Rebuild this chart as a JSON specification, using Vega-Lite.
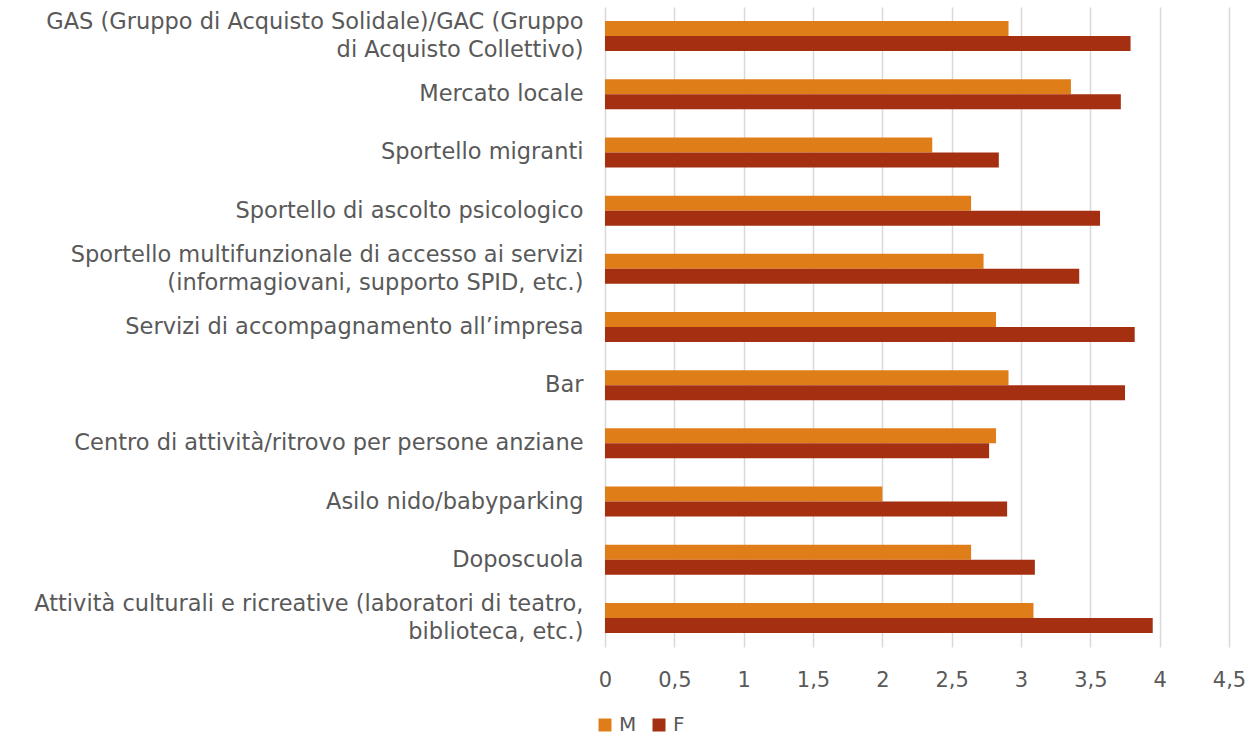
{
  "$schema": "https://vega.github.io/schema/vega-lite/v6.json",
  "autosize": {"type": "none"},
  "width": 624,
  "height": 640,
  "padding": {"left": 605, "top": 7, "right": 26, "bottom": 93},
  "background": "white",
  "config": {
    "view": {"stroke": null},
    "font": "DejaVu Sans",
    "axis": {"labelFont": "DejaVu Sans", "labelColor": "#595959"},
    "legend": {"labelFont": "DejaVu Sans", "labelColor": "#595959"}
  },
  "data": {
    "values": [
      {"Servizio": "GAS (Gruppo di Acquisto Solidale)/GAC (Gruppo\ndi Acquisto Collettivo)", "Genere": "M", "Valore": 2.91},
      {"Servizio": "GAS (Gruppo di Acquisto Solidale)/GAC (Gruppo\ndi Acquisto Collettivo)", "Genere": "F", "Valore": 3.79},
      {"Servizio": "Mercato locale", "Genere": "M", "Valore": 3.36},
      {"Servizio": "Mercato locale", "Genere": "F", "Valore": 3.72},
      {"Servizio": "Sportello migranti", "Genere": "M", "Valore": 2.36},
      {"Servizio": "Sportello migranti", "Genere": "F", "Valore": 2.84},
      {"Servizio": "Sportello di ascolto psicologico", "Genere": "M", "Valore": 2.64},
      {"Servizio": "Sportello di ascolto psicologico", "Genere": "F", "Valore": 3.57},
      {"Servizio": "Sportello multifunzionale di accesso ai servizi\n(informagiovani, supporto SPID, etc.)", "Genere": "M", "Valore": 2.73},
      {"Servizio": "Sportello multifunzionale di accesso ai servizi\n(informagiovani, supporto SPID, etc.)", "Genere": "F", "Valore": 3.42},
      {"Servizio": "Servizi di accompagnamento all’impresa", "Genere": "M", "Valore": 2.82},
      {"Servizio": "Servizi di accompagnamento all’impresa", "Genere": "F", "Valore": 3.82},
      {"Servizio": "Bar", "Genere": "M", "Valore": 2.91},
      {"Servizio": "Bar", "Genere": "F", "Valore": 3.75},
      {"Servizio": "Centro di attività/ritrovo per persone anziane", "Genere": "M", "Valore": 2.82},
      {"Servizio": "Centro di attività/ritrovo per persone anziane", "Genere": "F", "Valore": 2.77},
      {"Servizio": "Asilo nido/babyparking", "Genere": "M", "Valore": 2.0},
      {"Servizio": "Asilo nido/babyparking", "Genere": "F", "Valore": 2.9},
      {"Servizio": "Doposcuola", "Genere": "M", "Valore": 2.64},
      {"Servizio": "Doposcuola", "Genere": "F", "Valore": 3.1},
      {"Servizio": "Attività culturali e ricreative (laboratori di teatro,\nbiblioteca, etc.)", "Genere": "M", "Valore": 3.09},
      {"Servizio": "Attività culturali e ricreative (laboratori di teatro,\nbiblioteca, etc.)", "Genere": "F", "Valore": 3.95}
    ]
  },
  "mark": {"type": "bar"},
  "encoding": {
    "y": {
      "field": "Servizio",
      "type": "nominal",
      "sort": null,
      "scale": {"paddingInner": 0.484, "paddingOuter": 0.242},
      "axis": {
        "title": null,
        "ticks": false,
        "domain": false,
        "labelPadding": 22,
        "labelFontSize": 22.5,
        "labelLimit": 700,
        "labelLineHeight": 28,
        "labelOffset": {"condition": {"test": "indexof(datum.value, '\\n') >= 0", "value": -14}, "value": 0},
        "labelExpr": "split(datum.value, '\\n')"
      }
    },
    "yOffset": {"field": "Genere", "type": "nominal", "sort": ["M", "F"]},
    "x": {
      "field": "Valore",
      "type": "quantitative",
      "scale": {"domain": [0, 4.5], "nice": false},
      "axis": {
        "title": null,
        "values": [0, 0.5, 1, 1.5, 2, 2.5, 3, 3.5, 4, 4.5],
        "format": ",.1~f",
        "labelExpr": "replace(datum.label, '.', ',')",
        "ticks": false,
        "domain": false,
        "grid": true,
        "gridColor": "#d9d9d9",
        "gridWidth": 1.5,
        "labelFontSize": 21,
        "labelPadding": 22,
        "labelFlush": false
      }
    },
    "color": {
      "field": "Genere",
      "type": "nominal",
      "scale": {"domain": ["M", "F"], "range": ["#DF7E18", "#A52F11"]},
      "legend": {
        "title": null,
        "orient": "none",
        "direction": "horizontal",
        "legendX": -10,
        "legendY": 708,
        "symbolType": "square",
        "symbolSize": 169,
        "symbolStrokeWidth": 0,
        "labelFontSize": 20,
        "labelOffset": 4,
        "columnPadding": 12
      }
    }
  }
}
